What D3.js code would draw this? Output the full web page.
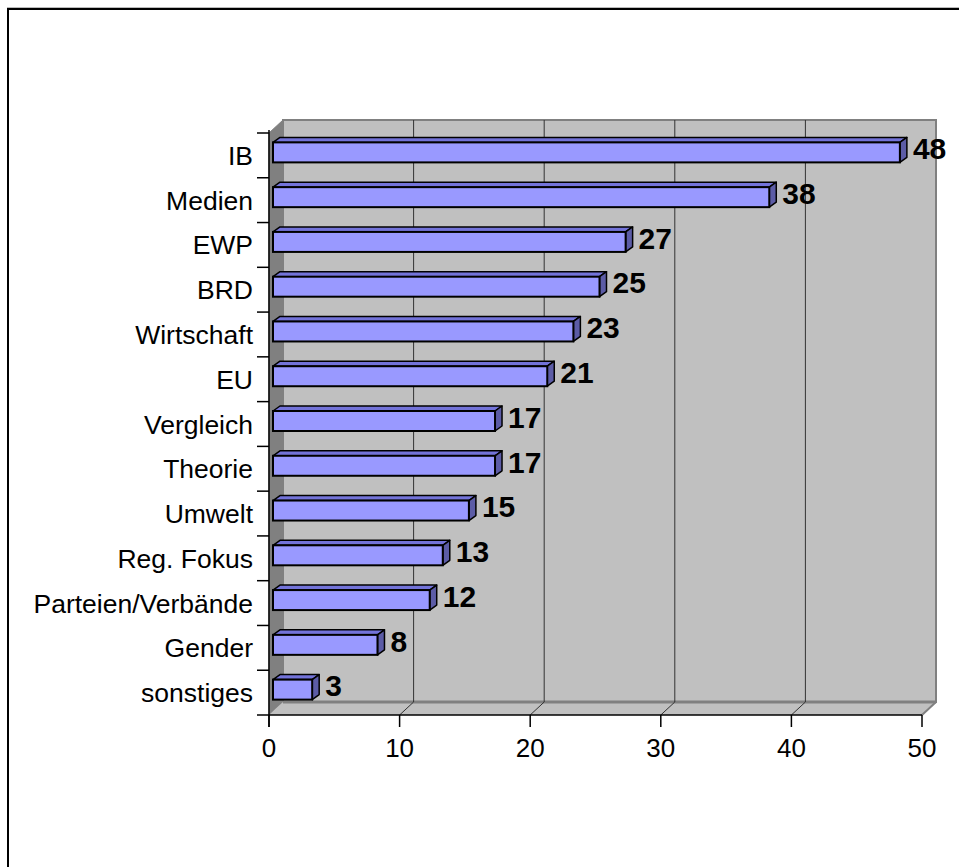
<!DOCTYPE html>
<html>
<head>
<meta charset="utf-8">
<script src="https://cdn.jsdelivr.net/npm/d3@7"></script>
<style>
	body { margin: 0; background: #fff; }
	text { font-family: Arial, 'Liberation Sans', sans-serif; }
</style>
</head>
<body>
<svg id="chart" width="959" height="867"></svg>
<script>
// Themen (von oben nach unten) und Anzahl
let categories	= ['IB', 'Medien', 'EWP', 'BRD', 'Wirtschaft', 'EU', 'Vergleich', 'Theorie', 'Umwelt', 'Reg. Fokus', 'Parteien/Verbände', 'Gender', 'sonstiges'];
let values		= [48, 38, 27, 25, 23, 21, 17, 17, 15, 13, 12, 8, 3];
let ticks		= [0, 10, 20, 30, 40, 50];

let svg		= d3.select('#chart');

// outer frame
svg.append('line').attr('x1', 7).attr('y1', 7.5).attr('x2', 959).attr('y2', 7.5).style('stroke', '#bbb').style('stroke-width', 1);
svg.append('rect').attr('x', 8).attr('y', 9).attr('width', 1000).attr('height', 1000).style('fill', 'none').style('stroke', '#000').style('stroke-width', 2);

let x		= d3.scaleLinear().domain([0, 50]).range([269, 922]);
let y		= d3.scaleBand().domain(categories).range([133, 715]);

// 3d depth of the walls
let wdx = 14, wdy = -13;
let pTop = y.range()[0], pBottom = y.range()[1], pLeft = x(0), pRight = x(50);

let g	= svg.append('g');

// back wall
g.append('rect').attr('x', pLeft + wdx).attr('y', pTop + wdy).attr('width', pRight - pLeft).attr('height', pBottom - pTop)
	.style('fill', '#c0c0c0').style('stroke', '#808080').style('stroke-width', 2);

// side wall
g.append('polygon').attr('points', [[pLeft, pTop], [pLeft + wdx, pTop + wdy], [pLeft + wdx, pBottom + wdy], [pLeft, pBottom]].join(' '))
	.style('fill', '#808080').style('stroke', '#808080').style('stroke-width', 1);

// floor
g.append('polygon').attr('points', [[pLeft, pBottom], [pLeft + wdx, pBottom + wdy], [pRight + wdx, pBottom + wdy], [pRight, pBottom]].join(' '))
	.style('fill', '#c0c0c0').style('stroke', 'none');
g.append('line').attr('x1', pLeft + wdx).attr('y1', pBottom + wdy).attr('x2', pRight + wdx).attr('y2', pBottom + wdy)
	.style('stroke', '#808080').style('stroke-width', 3);
g.append('line').attr('x1', pRight).attr('y1', pBottom).attr('x2', pRight + wdx).attr('y2', pBottom + wdy)
	.style('stroke', '#808080').style('stroke-width', 2);

// gridlines on wall and floor
ticks.slice(1, -1).forEach(t => {
	g.append('line').attr('x1', x(t) + wdx).attr('y1', pTop + wdy).attr('x2', x(t) + wdx).attr('y2', pBottom + wdy)
		.style('stroke', '#333').style('stroke-width', 1);
	g.append('line').attr('x1', x(t)).attr('y1', pBottom).attr('x2', x(t) + wdx).attr('y2', pBottom + wdy)
		.style('stroke', '#333').style('stroke-width', 1);
});

// bars
let bdx = 7, bdy = -5, off = 4, bh = 20;
let data	= categories.map((c, i) => ({ c, v: values[i] }));
let bars	= g.selectAll('.bar').data(data).enter().append('g').attr('class', 'bar');

bars.each(function(d) {
	let b	= d3.select(this);
	let x0	= x(0) + off, x1 = x(d.v) + off;
	let y0	= y(d.c) + y.bandwidth() / 2 - off - bh / 2 + 1, y1 = y0 + bh;

	b.append('polygon').attr('points', [[x0, y0], [x0 + bdx, y0 + bdy], [x1 + bdx, y0 + bdy], [x1, y0]].join(' '))
		.style('fill', '#7373d9').style('stroke', '#000').style('stroke-width', 1.5).style('stroke-linejoin', 'round');
	b.append('polygon').attr('points', [[x1, y0], [x1 + bdx, y0 + bdy], [x1 + bdx, y1 + bdy], [x1, y1]].join(' '))
		.style('fill', '#5c5ca6').style('stroke', '#000').style('stroke-width', 1.5).style('stroke-linejoin', 'round');
	b.append('rect').attr('x', x0).attr('y', y0).attr('width', x1 - x0).attr('height', bh)
		.style('fill', '#9999ff').style('stroke', '#000').style('stroke-width', 2);

	b.append('text').attr('x', x1 + 13).attr('y', y(d.c) + y.bandwidth() / 2 - 7).attr('dy', '0.36em')
		.style('font-size', '30px').style('font-weight', 'bold').text(d.v);
});

// category axis
let axisG	= svg.append('g');
axisG.append('line').attr('x1', pLeft).attr('y1', pTop - 3).attr('x2', pLeft).attr('y2', pBottom + 12).style('stroke', '#000').style('stroke-width', 1.5);
axisG.selectAll('.ctick').data(categories.concat(['_end'])).enter().append('line')
	.attr('x1', pLeft - 12).attr('x2', pLeft)
	.attr('y1', (d, i) => pTop + i * y.step()).attr('y2', (d, i) => pTop + i * y.step())
	.style('stroke', '#000').style('stroke-width', 1.5);
axisG.selectAll('.clabel').data(categories).enter().append('text')
	.attr('x', 253).attr('y', d => y(d) + y.bandwidth() / 2).attr('dy', '0.36em').attr('text-anchor', 'end')
	.style('font-size', '26.5px').text(d => d);

// value axis
axisG.append('line').attr('x1', pLeft).attr('y1', pBottom).attr('x2', pRight).attr('y2', pBottom).style('stroke', '#000').style('stroke-width', 1.5);
axisG.selectAll('.vtick').data(ticks).enter().append('line')
	.attr('x1', d => x(d)).attr('x2', d => x(d)).attr('y1', pBottom).attr('y2', pBottom + 12)
	.style('stroke', '#000').style('stroke-width', 1.5);
axisG.selectAll('.vlabel').data(ticks).enter().append('text')
	.attr('x', d => x(d)).attr('y', pBottom + 33).attr('dy', '0.36em').attr('text-anchor', 'middle')
	.style('font-size', '26px').text(d => d);
</script>
</body>
</html>
